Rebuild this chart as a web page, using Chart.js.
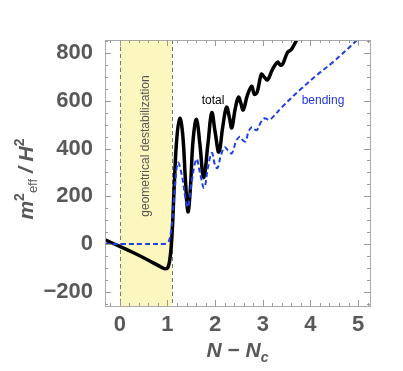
<!DOCTYPE html>
<html>
<head>
<meta charset="utf-8">
<script src="https://cdn.jsdelivr.net/npm/chart.js@4"></script>
<style>
  html, body { margin: 0; padding: 0; background: #fff; }
  #wrap { width: 403px; height: 371px; position: relative; }
</style>
</head>
<body>
<div id="wrap"><canvas id="chart"></canvas></div>
<script>
// data
const totalX = [-0.31, 0, 0.3, 0.6, 0.85, 0.95, 1.01, 1.05, 1.08, 1.11, 1.15, 1.2, 1.26, 1.32, 1.38, 1.43, 1.48, 1.54, 1.61, 1.68, 1.76, 1.85, 1.93, 2.0, 2.08, 2.16, 2.24, 2.3, 2.35, 2.42, 2.49, 2.54, 2.59, 2.68, 2.77, 2.82, 2.88, 2.97, 3.03, 3.1, 3.2, 3.31, 3.37, 3.42, 3.52, 3.6, 3.71, 3.8];
const totalY = [17, -10, -38, -68, -95, -104, -98, -65, -10, 90, 280, 450, 527, 460, 260, 135, 230, 440, 522, 420, 278, 420, 550, 470, 385, 490, 573, 530, 487, 565, 615, 590, 562, 625, 661, 628, 635, 711, 700, 688, 730, 762, 750, 755, 803, 815, 855, 890];

const bendX = [-0.31, 0.5, 0.92, 1.0, 1.05, 1.1, 1.15, 1.22, 1.3, 1.38, 1.43, 1.5, 1.61, 1.68, 1.77, 1.85, 1.93, 2.0, 2.05, 2.12, 2.2, 2.28, 2.35, 2.44, 2.52, 2.58, 2.64, 2.7, 2.77, 2.83, 2.88, 2.96, 3.04, 3.1, 3.16, 3.4, 3.77, 4.13, 4.47, 4.97, 5.05];
const bendY = [0, 0, 0, 4, 25, 95, 220, 340, 290, 190, 155, 250, 355, 300, 236, 320, 382, 330, 318, 370, 405, 390, 380, 430, 450, 435, 430, 470, 490, 480, 478, 510, 527, 522, 522, 573, 644, 707, 762, 853, 870];

const xMajor = [0, 1, 2, 3, 4, 5];
const yMajor = [-200, 0, 200, 400, 600, 800];
const band = [0, 1.1];  // geometrical destabilization

const grey = '#595959';

function pts(xs, ys) {
    return xs.map((x, i) => ({ x: x, y: ys[i] }));
}

function drawRich(ctx, parts, x, y, align) {
    let w = 0;
    parts.forEach(p => { ctx.font = p.font; w += ctx.measureText(p.t).width; });
    let cx = align === 'center' ? x - w / 2 : x;
    parts.forEach(p => {
        ctx.font = p.font;
        ctx.fillText(p.t, cx, y + (p.dy || 0));
        cx += ctx.measureText(p.t).width;
    });
}

const framePlugin = {
    id: 'frame',
    beforeDatasetsDraw(chart) {
        const { ctx, chartArea: a, scales: { x, y } } = chart;
        const x0 = x.getPixelForValue(band[0]);
        const x1 = x.getPixelForValue(band[1]);
        ctx.save();
        ctx.fillStyle = '#fcf7bf';
        ctx.fillRect(x0, a.top, x1 - x0, a.bottom - a.top);
        ctx.strokeStyle = '#777';
        ctx.lineWidth = 1;
        ctx.setLineDash([4, 3]);
        [x0, x1].forEach(px => {
            ctx.beginPath();
            ctx.moveTo(Math.round(px) + 0.5, a.top);
            ctx.lineTo(Math.round(px) + 0.5, a.bottom);
            ctx.stroke();
        });
        ctx.setLineDash([]);

        // band label
        ctx.fillStyle = '#555';
        ctx.font = '12px "Liberation Sans", Arial, sans-serif';
        ctx.textAlign = 'center';
        ctx.textBaseline = 'middle';
        ctx.translate((x0 + x1) / 2, 146);
        ctx.rotate(-Math.PI / 2);
        ctx.fillText('geometrical destabilization', 0, 0);
        ctx.restore();
    },
    afterDatasetsDraw(chart) {
        const { ctx, chartArea: a, scales: { x, y } } = chart;
        ctx.save();
        // frame
        ctx.strokeStyle = '#aaa';
        ctx.lineWidth = 1;
        ctx.strokeRect(Math.round(a.left) + 0.5, Math.round(a.top) + 0.5,
            Math.round(a.right - a.left), Math.round(a.bottom - a.top));
        // inward ticks
        ctx.strokeStyle = '#999';
        ctx.beginPath();
        for (let v = -0.2; v <= 5.21; v += 0.2) {
            const px = Math.round(x.getPixelForValue(v)) + 0.5;
            const major = xMajor.some(m => Math.abs(m - v) < 1e-6);
            const len = major ? 6 : 3;
            ctx.moveTo(px, a.bottom); ctx.lineTo(px, a.bottom - len);
            ctx.moveTo(px, a.top); ctx.lineTo(px, a.top + len);
        }
        for (let v = -250; v <= 850; v += 50) {
            const py = Math.round(y.getPixelForValue(v)) + 0.5;
            const major = yMajor.indexOf(v) >= 0;
            const len = major ? 6 : 3;
            ctx.moveTo(a.left, py); ctx.lineTo(a.left + len, py);
            ctx.moveTo(a.right, py); ctx.lineTo(a.right - len, py);
        }
        ctx.stroke();

        // curve labels
        ctx.textAlign = 'center';
        ctx.textBaseline = 'middle';
        ctx.font = '12px "Liberation Sans", Arial, sans-serif';
        ctx.fillStyle = '#000';
        ctx.fillText('total', 213, 101);
        ctx.fillStyle = '#2236e0';
        ctx.fillText('bending', 323, 101);

        // axis titles
        const bi = 'italic bold 21px "Liberation Sans", Arial, sans-serif';
        ctx.fillStyle = grey;
        ctx.textAlign = 'left';
        ctx.textBaseline = 'alphabetic';
        drawRich(ctx, [
            { t: 'N', font: bi },
            { t: ' \u2212 ', font: 'bold 21px "Liberation Sans", Arial, sans-serif' },
            { t: 'N', font: bi },
            { t: 'c', font: 'italic bold 14px "Liberation Sans", Arial, sans-serif', dy: 5 }
        ], (a.left + a.right) / 2, 357, 'center');

        ctx.translate(33, 179);
        ctx.rotate(-Math.PI / 2);
        drawRich(ctx, [
            { t: 'm', font: bi },
            { t: '2', font: 'bold 14px "Liberation Sans", Arial, sans-serif', dy: -9 },
            { t: 'eff', font: '13px "Liberation Sans", Arial, sans-serif', dy: 4 },
            { t: ' / ', font: bi },
            { t: 'H', font: bi },
            { t: '2', font: 'bold 14px "Liberation Sans", Arial, sans-serif', dy: -9 }
        ], 0, 0, 'center');
        ctx.restore();
    }
};

const tickFont = { family: '"Liberation Sans", Arial, sans-serif', size: 22, weight: 'bold' };

new Chart(document.getElementById('chart'), {
    type: 'line',
    data: {
        datasets: [{
            label: 'bending',
            data: pts(bendX, bendY),
            borderColor: '#1f3fe8',
            borderWidth: 2,
            borderDash: [5, 3],
            pointRadius: 0,
            tension: 0.4,
            fill: false
        }, {
            label: 'total',
            data: pts(totalX, totalY),
            borderColor: '#000',
            borderWidth: 3.5,
            pointRadius: 0,
            tension: 0.4,
            fill: false
        }]
    },
    options: {
        responsive: true,
        maintainAspectRatio: false,
        animation: false,
        layout: { padding: { left: 0, top: 40, right: 33, bottom: 0 } },
        plugins: { legend: { display: false }, tooltip: { enabled: false } },
        scales: {
            x: {
                type: 'linear',
                min: -0.31,
                max: 5.25,
                grid: { display: false, drawTicks: false },
                border: { display: false },
                afterBuildTicks: s => { s.ticks = xMajor.map(v => ({ value: v })); },
                afterFit: s => { s.height = 65; },
                ticks: { font: tickFont, color: grey, padding: 6, maxRotation: 0, autoSkip: false }
            },
            y: {
                min: -260,
                max: 855,
                grid: { display: false, drawTicks: false },
                border: { display: false },
                afterBuildTicks: s => { s.ticks = yMajor.map(v => ({ value: v })); },
                afterFit: s => { s.width = 105; },
                ticks: {
                    font: tickFont, color: grey, padding: 12, autoSkip: false,
                    callback: v => v < 0 ? '\u2212' + Math.abs(v) : String(v)
                }
            }
        }
    },
    plugins: [framePlugin]
});
</script>
</body>
</html>
